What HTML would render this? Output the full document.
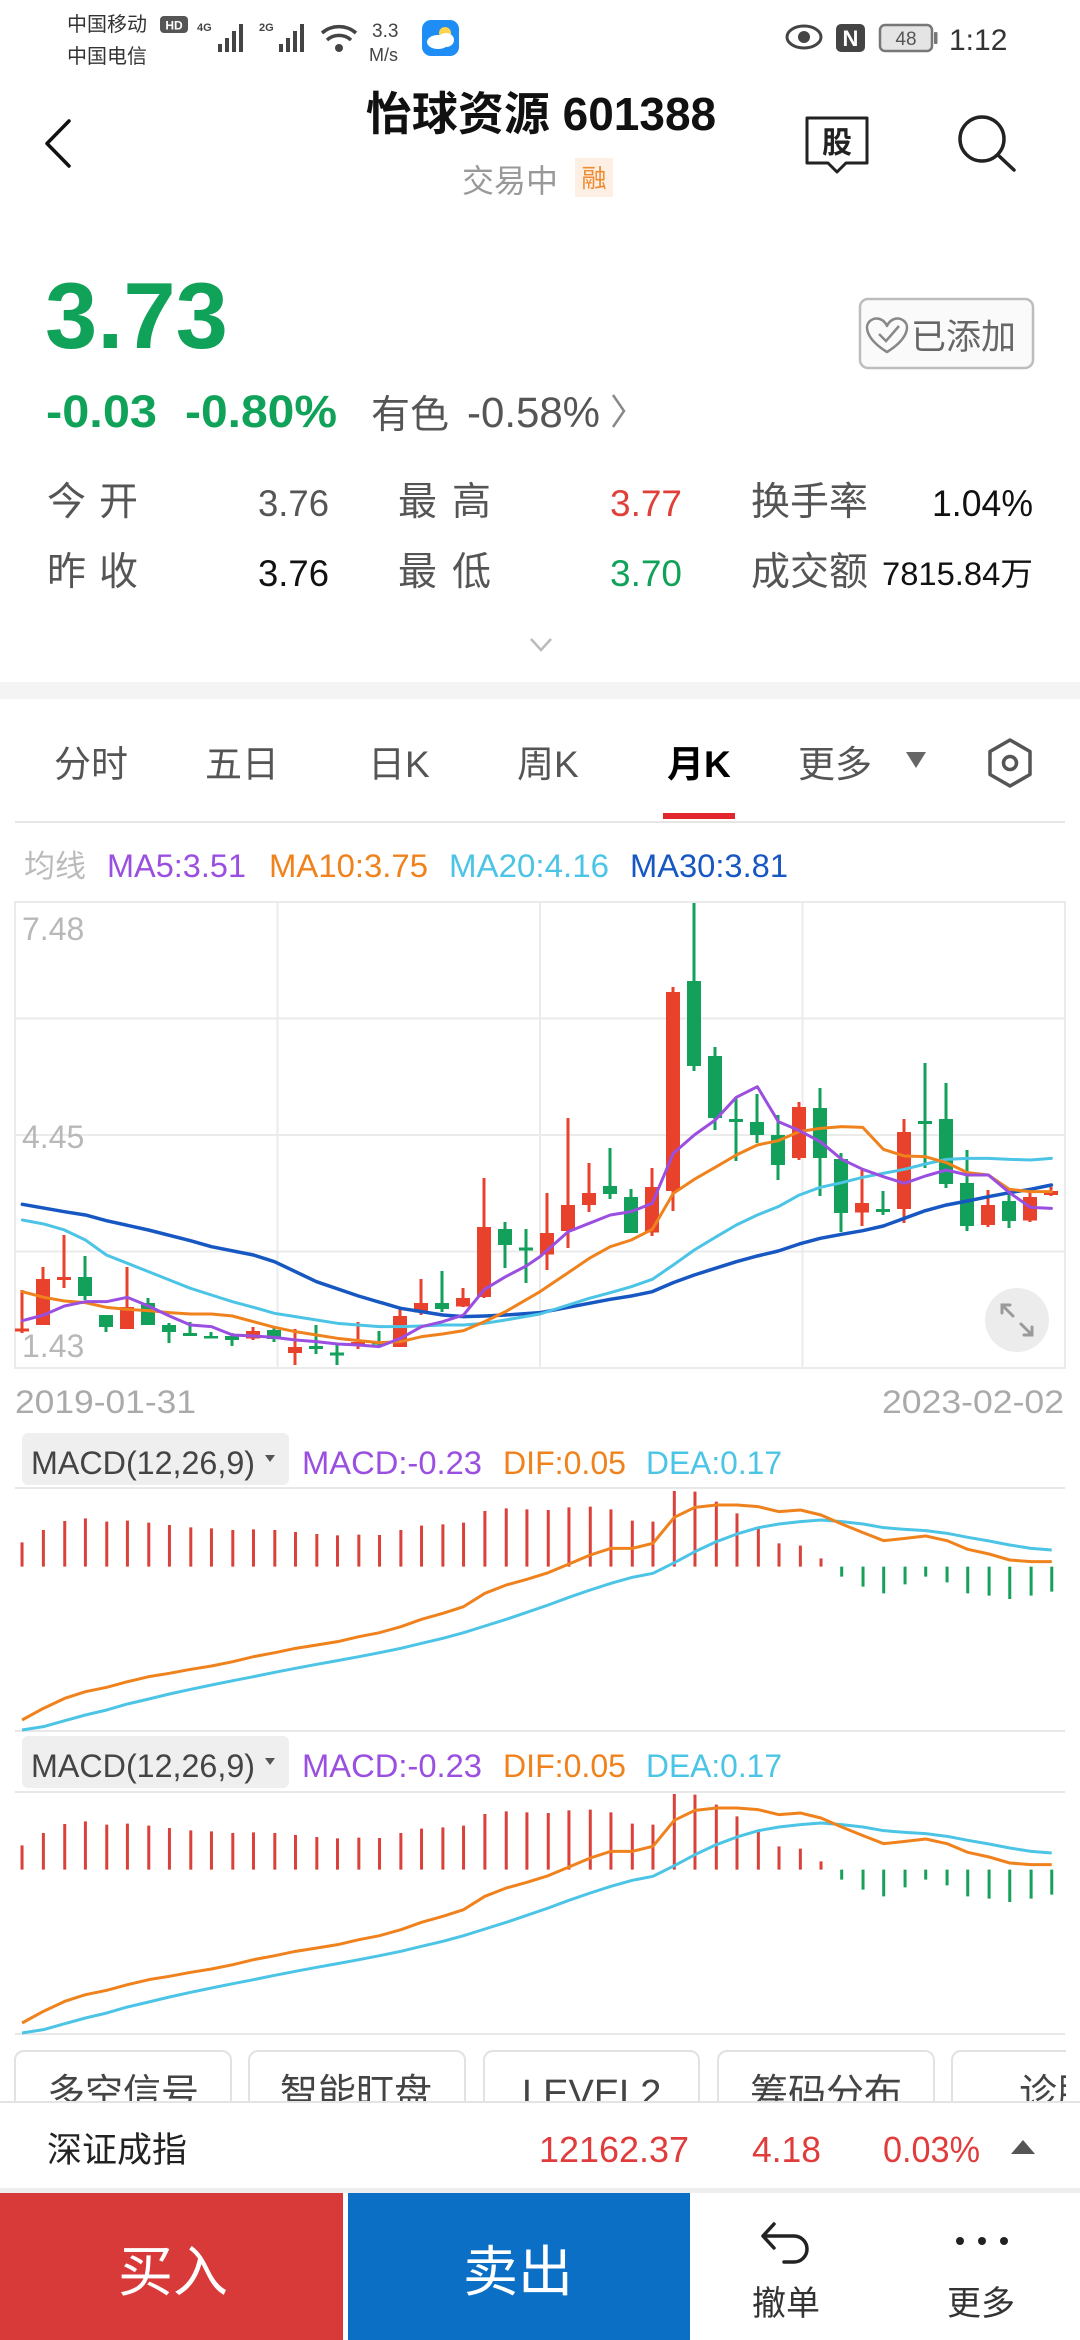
<!DOCTYPE html>
<html><head><meta charset="utf-8">
<style>
html,body{margin:0;padding:0;background:#fff;width:1080px;height:2340px;overflow:hidden}
svg{display:block}
text{font-family:"Liberation Sans","Noto Sans CJK SC",sans-serif}
</style></head>
<body>
<svg width="1080" height="2340" viewBox="0 0 1080 2340" xmlns="http://www.w3.org/2000/svg">
<rect x="0" y="0" width="1080" height="2340" fill="#fff"/>

<!-- ===== Status bar ===== -->
<text x="67" y="31" font-size="20" fill="#333">中国移动</text>
<rect x="160" y="16" width="28" height="17" rx="4" fill="#555"/>
<text x="174" y="29.5" font-size="12" font-weight="bold" fill="#fff" text-anchor="middle">HD</text>
<text x="67" y="63" font-size="20" fill="#333">中国电信</text>
<text x="197" y="31" font-size="11" font-weight="bold" fill="#444">4G</text>
<g fill="#444"><rect x="218" y="44" width="4" height="8"/><rect x="225" y="38" width="4" height="14"/><rect x="232" y="31" width="4" height="21"/><rect x="239" y="24" width="4" height="28"/></g>
<text x="259" y="31" font-size="11" font-weight="bold" fill="#444">2G</text>
<g fill="#444"><rect x="279" y="44" width="4" height="8"/><rect x="286" y="38" width="4" height="14"/><rect x="293" y="31" width="4" height="21"/><rect x="300" y="24" width="4" height="28"/></g>
<g fill="none" stroke="#444" stroke-width="3.5"><path d="M322 33 A26 26 0 0 1 356 33"/><path d="M327 40 A18 18 0 0 1 351 40"/></g>
<circle cx="339" cy="48" r="4" fill="#444"/>
<text x="372" y="37" font-size="19" fill="#444">3.3</text>
<text x="369" y="61" font-size="18" fill="#444">M/s</text>
<rect x="422" y="20" width="37" height="36" rx="9" fill="#1e8df5"/>
<circle cx="445" cy="33" r="6" fill="#ffd34a"/>
<ellipse cx="438" cy="42" rx="11" ry="7" fill="#fff"/>
<ellipse cx="446" cy="40" rx="8" ry="7" fill="#fff"/>
<ellipse cx="804" cy="37" rx="17" ry="11" fill="none" stroke="#444" stroke-width="3"/>
<circle cx="804" cy="37" r="6" fill="#444"/>
<rect x="836" y="24" width="29" height="28" rx="5" fill="#444"/>
<text x="850.5" y="46" font-size="22" font-weight="bold" fill="#fff" text-anchor="middle">N</text>
<rect x="880" y="25" width="52" height="26" rx="5" fill="#e4e4e4" stroke="#777" stroke-width="2.5"/>
<rect x="934" y="32" width="3.5" height="12" rx="1" fill="#777"/>
<text x="906" y="45" font-size="19" fill="#555" text-anchor="middle">48</text>
<text x="949" y="50" font-size="30" fill="#333">1:12</text>

<!-- ===== Header ===== -->
<polyline points="69,121 47,143.5 69,166" fill="none" stroke="#111" stroke-width="3.5" stroke-linejoin="round" stroke-linecap="round"/>
<text x="541" y="130" font-size="46" font-weight="bold" fill="#111" text-anchor="middle">怡球资源 601388</text>
<text x="462" y="192" font-size="32" fill="#999">交易中</text>
<rect x="575" y="158" width="38" height="39" fill="#fdefe4"/>
<text x="594" y="187" font-size="25" fill="#ef8a2e" text-anchor="middle">融</text>
<path d="M807 118 H867 V163 H846 L837 172 L828 163 H807 Z" fill="#fff" stroke="#222" stroke-width="3" stroke-linejoin="round"/>
<text x="837" y="153" font-size="30" font-weight="bold" fill="#222" text-anchor="middle">股</text>
<circle cx="982" cy="139" r="22" fill="none" stroke="#222" stroke-width="3.5"/>
<line x1="998" y1="155" x2="1014" y2="170" stroke="#222" stroke-width="3.5" stroke-linecap="round"/>

<!-- ===== Price block ===== -->
<text x="45" y="348" font-size="94" font-weight="bold" fill="#11a25a">3.73</text>
<text x="46" y="427" font-size="45" font-weight="bold" fill="#11a25a" textLength="111" lengthAdjust="spacingAndGlyphs">-0.03</text>
<text x="185" y="427" font-size="45" font-weight="bold" fill="#11a25a" textLength="152" lengthAdjust="spacingAndGlyphs">-0.80%</text>
<text x="371" y="428" font-size="39" fill="#555">有色</text>
<text x="467" y="427" font-size="43" fill="#555" textLength="133" lengthAdjust="spacingAndGlyphs">-0.58%</text>
<polyline points="613,395 624,411 613,427" fill="none" stroke="#888" stroke-width="2.5"/>

<rect x="860" y="299" width="173" height="69" rx="8" fill="#fafafa" stroke="#bdbdbd" stroke-width="2.5"/>
<path d="M887 352 C866 339 864 326 870 321 C876 316 884 319 887 326 C890 319 898 316 904 321 C910 326 908 339 887 352 Z" fill="none" stroke="#888" stroke-width="2.5" stroke-linejoin="round"/>
<polyline points="879,334 886,341 899,326" fill="none" stroke="#888" stroke-width="2.5"/>
<text x="911" y="349" font-size="35" fill="#666">已添加</text>

<!-- stats -->
<g font-size="39" fill="#555">
<text x="47" y="515">今</text><text x="99" y="515">开</text>
<text x="398" y="515">最</text><text x="452" y="515">高</text>
<text x="751" y="515">换手率</text>
<text x="47" y="585">昨</text><text x="99" y="585">收</text>
<text x="398" y="585">最</text><text x="452" y="585">低</text>
<text x="751" y="585">成交额</text>
</g>
<text x="258" y="516" font-size="37" fill="#555" textLength="71" lengthAdjust="spacingAndGlyphs">3.76</text>
<text x="610" y="516" font-size="37" fill="#e0403a" textLength="72" lengthAdjust="spacingAndGlyphs">3.77</text>
<text x="932" y="516" font-size="37" fill="#111" textLength="101" lengthAdjust="spacingAndGlyphs">1.04%</text>
<text x="258" y="586" font-size="37" fill="#111" textLength="71" lengthAdjust="spacingAndGlyphs">3.76</text>
<text x="610" y="586" font-size="37" fill="#11a25a" textLength="72" lengthAdjust="spacingAndGlyphs">3.70</text>
<text x="882" y="585" font-size="32" fill="#111" textLength="151" lengthAdjust="spacingAndGlyphs">7815.84万</text>
<polyline points="531,639 541,650 551,639" fill="none" stroke="#bbb" stroke-width="2.5"/>

<rect x="0" y="682" width="1080" height="17" fill="#f4f4f4"/>

<!-- ===== Tabs ===== -->
<g font-size="37" fill="#555">
<text x="54" y="777">分时</text>
<text x="205" y="777">五日</text>
<text x="368" y="777">日K</text>
<text x="517" y="777">周K</text>
<text x="798" y="777">更多</text>
</g>
<text x="667" y="777" font-size="37" font-weight="bold" fill="#000">月K</text>
<polygon points="906,752 926,752 916,768" fill="#666"/>
<polygon points="1010,740 1030,751.5 1030,774.5 1010,786 990,774.5 990,751.5" fill="none" stroke="#555" stroke-width="3.5" stroke-linejoin="round"/>
<circle cx="1010" cy="763" r="6.5" fill="none" stroke="#555" stroke-width="3.5"/>
<rect x="663" y="813" width="72" height="6" fill="#e3262b"/>
<line x1="15" y1="822" x2="1065" y2="822" stroke="#e6e6e6" stroke-width="2"/>

<!-- MA legend -->
<text x="24" y="877" font-size="31" fill="#bbb">均线</text>
<text x="107" y="877" font-size="32" fill="#9a4fe0" textLength="139" lengthAdjust="spacingAndGlyphs">MA5:3.51</text>
<text x="269" y="877" font-size="32" fill="#f0821e" textLength="159" lengthAdjust="spacingAndGlyphs">MA10:3.75</text>
<text x="449" y="877" font-size="32" fill="#4cc4e6" textLength="160" lengthAdjust="spacingAndGlyphs">MA20:4.16</text>
<text x="630" y="877" font-size="32" fill="#1657c2" textLength="158" lengthAdjust="spacingAndGlyphs">MA30:3.81</text>

<!-- ===== Main chart ===== -->
<rect x="15" y="902" width="1050" height="466" fill="none" stroke="#ebebeb" stroke-width="2"/>
<g stroke="#ebebeb" stroke-width="2">
<line x1="15" y1="1018.5" x2="1065" y2="1018.5"/>
<line x1="15" y1="1135" x2="1065" y2="1135"/>
<line x1="15" y1="1251.5" x2="1065" y2="1251.5"/>
<line x1="277.5" y1="902" x2="277.5" y2="1368"/>
<line x1="540" y1="902" x2="540" y2="1368"/>
<line x1="802.5" y1="902" x2="802.5" y2="1368"/>
</g>
<g font-size="32" fill="#b8b8b8">
<text x="22" y="940">7.48</text>
<text x="22" y="1148">4.45</text>
<text x="22" y="1357">1.43</text>
</g>

<!-- red candles -->
<g fill="#e8412c">
<path d="M22 1290V1333M43 1267V1325M64 1235V1288M127 1267V1329M253 1327V1340M295 1329V1365M358 1322V1349M400 1307V1347M421 1279V1315M463 1288V1307M484 1178V1298M547 1193V1270M568 1118V1248M589 1163V1212M652 1168V1236M673 987V1211M799 1102V1160M862 1170V1226M904 1119V1223M988 1190V1227M1030 1193V1222M1051 1187V1196" stroke="#e8412c" stroke-width="3"/>
<rect x="15" y="1328.5" width="14" height="3"/>
<rect x="36" y="1279" width="14" height="46"/>
<rect x="57" y="1277" width="14" height="3"/>
<rect x="120" y="1307" width="14" height="22"/>
<rect x="246" y="1331" width="14" height="7.5"/>
<rect x="288" y="1347" width="14" height="6"/>
<rect x="351" y="1342" width="14" height="3.5"/>
<rect x="393" y="1316" width="14" height="31"/>
<rect x="414" y="1303" width="14" height="9.5"/>
<rect x="456" y="1298" width="14" height="8.5"/>
<rect x="477" y="1227" width="14" height="70"/>
<rect x="540" y="1233" width="14" height="21.5"/>
<rect x="561" y="1205" width="14" height="26"/>
<rect x="582" y="1193" width="14" height="12"/>
<rect x="645" y="1187" width="14" height="45.5"/>
<rect x="666" y="992" width="14" height="199"/>
<rect x="792" y="1107" width="14" height="51"/>
<rect x="855" y="1203" width="14" height="9.5"/>
<rect x="897" y="1132" width="14" height="77"/>
<rect x="981" y="1205" width="14" height="20"/>
<rect x="1023" y="1197" width="14" height="23.5"/>
<rect x="1044" y="1191" width="14" height="4"/>
</g>
<!-- green candles -->
<g fill="#12a05a">
<path d="M85 1256V1300M106 1315V1332M148 1298V1325M169 1323V1343M190 1322V1336M211 1332V1338M232 1333V1346M274 1328V1342M316 1325V1354M337 1344V1365M379 1331V1345M442 1271V1312M505 1222V1268M526 1229V1283M610 1148V1199M631 1189V1233M694 903V1071M715 1047V1130M736 1097V1161M757 1094V1143M778 1115V1180M820 1088V1196M841 1153V1232M883 1191V1215M925 1063V1168M946 1083V1188M967 1150V1231M1009 1194V1228" stroke="#12a05a" stroke-width="3"/>
<rect x="78" y="1277" width="14" height="19"/>
<rect x="99" y="1315" width="14" height="12"/>
<rect x="141" y="1303" width="14" height="22"/>
<rect x="162" y="1325" width="14" height="7"/>
<rect x="183" y="1333" width="14" height="3"/>
<rect x="204" y="1336" width="14" height="2.5"/>
<rect x="225" y="1336" width="14" height="4"/>
<rect x="267" y="1330" width="14" height="9"/>
<rect x="309" y="1346" width="14" height="3"/>
<rect x="330" y="1352.5" width="14" height="3"/>
<rect x="372" y="1342" width="14" height="2.5"/>
<rect x="435" y="1303" width="14" height="6"/>
<rect x="498" y="1229" width="14" height="16"/>
<rect x="519" y="1247.5" width="14" height="3"/>
<rect x="603" y="1186" width="14" height="8"/>
<rect x="624" y="1197" width="14" height="36"/>
<rect x="687" y="981" width="14" height="85"/>
<rect x="708" y="1056" width="14" height="62"/>
<rect x="729" y="1119" width="14" height="3"/>
<rect x="750" y="1122" width="14" height="13"/>
<rect x="771" y="1135" width="14" height="30"/>
<rect x="813" y="1108" width="14" height="50"/>
<rect x="834" y="1159" width="14" height="54"/>
<rect x="876" y="1209" width="14" height="3"/>
<rect x="918" y="1121" width="14" height="3"/>
<rect x="939" y="1119" width="14" height="65"/>
<rect x="960" y="1183" width="14" height="43"/>
<rect x="1002" y="1201" width="14" height="20"/>
</g>

<!-- MA lines (zoom space) -->
<g transform="translate(0,890) scale(0.34439,0.33333)" fill="none" stroke-linejoin="round" stroke-linecap="round">
<polyline vector-effect="non-scaling-stroke" stroke="#1657c2" stroke-width="3.5" points="65,943 187,965 248,975 309,992 431,1020 553,1052 614,1070 736,1095 797,1115 919,1175 1041,1218 1163,1255 1224,1265 1285,1275 1346,1280 1407,1278 1468,1275 1568,1268 1650,1252 1772,1228 1833,1218 1894,1205 1955,1178 2016,1155 2077,1135 2138,1115 2199,1098 2260,1083 2321,1062 2382,1045 2444,1033 2505,1022 2565,1008 2626,985 2687,962 2748,945 2809,933 2870,920 2931,908 2992,898 3053,885"/>
<polyline vector-effect="non-scaling-stroke" stroke="#4cc4e6" stroke-width="3" points="65,990 127,1002 187,1020 248,1050 309,1095 370,1120 431,1145 492,1170 553,1195 614,1215 675,1235 736,1252 797,1270 858,1280 919,1290 980,1300 1041,1305 1101,1310 1163,1310 1224,1308 1285,1305 1346,1305 1407,1300 1468,1290 1568,1272 1650,1245 1711,1225 1772,1208 1833,1190 1894,1168 1955,1125 2016,1080 2077,1042 2138,1005 2199,975 2260,950 2321,915 2382,892 2444,878 2505,862 2565,850 2626,838 2687,822 2748,808 2809,805 2870,805 2931,808 2992,810 3053,805"/>
<polyline vector-effect="non-scaling-stroke" stroke="#f0821e" stroke-width="3" points="65,1205 127,1222 187,1233 248,1238 309,1252 370,1258 431,1262 492,1268 553,1272 614,1272 675,1278 736,1295 797,1312 858,1325 919,1335 980,1345 1041,1352 1101,1358 1163,1355 1224,1340 1285,1332 1346,1322 1407,1295 1468,1265 1568,1205 1650,1148 1711,1105 1772,1070 1833,1050 1894,1018 1955,910 2016,868 2077,832 2138,795 2199,765 2260,752 2321,725 2382,715 2444,710 2505,712 2565,778 2626,798 2687,800 2748,818 2809,848 2870,855 2931,898 2992,905 3053,905"/>
<polyline vector-effect="non-scaling-stroke" stroke="#9a4fe0" stroke-width="3" points="65,1292 127,1275 187,1248 248,1235 309,1235 370,1222 431,1248 492,1278 553,1305 614,1310 675,1335 736,1338 797,1342 858,1350 919,1355 980,1362 1041,1365 1101,1370 1163,1345 1224,1310 1285,1295 1346,1275 1407,1198 1468,1160 1528,1128 1568,1100 1650,1025 1711,1000 1772,975 1833,965 1894,940 1955,790 2016,735 2077,690 2138,622 2199,590 2260,695 2321,722 2382,755 2444,808 2505,838 2565,860 2626,880 2687,858 2748,840 2809,855 2870,855 2931,908 2992,952 3053,955"/>
</g>

<!-- expand button -->
<circle cx="1017" cy="1320" r="32" fill="#ececec"/>
<g stroke="#9a9a9a" stroke-width="3" fill="none" stroke-linecap="round">
<path d="M1013 1316 L1002 1305 M1002 1313 V1305 H1010"/>
<path d="M1021 1324 L1032 1335 M1032 1327 V1335 H1024"/>
</g>

<!-- dates -->
<text x="15" y="1413" font-size="32" fill="#aaa" textLength="181" lengthAdjust="spacingAndGlyphs">2019-01-31</text>
<text x="882" y="1413" font-size="32" fill="#aaa" textLength="182" lengthAdjust="spacingAndGlyphs">2023-02-02</text>

<!-- ===== MACD panel 1 ===== -->
<rect x="22" y="1433" width="267" height="52" rx="6" fill="#efefef"/>
<text x="31" y="1474" font-size="32" fill="#444" textLength="224" lengthAdjust="spacingAndGlyphs">MACD(12,26,9)</text>
<polygon points="265,1455 275,1455 270,1462" fill="#555"/>
<text x="302" y="1474" font-size="32" fill="#9a4fe0" textLength="180" lengthAdjust="spacingAndGlyphs">MACD:-0.23</text>
<text x="503" y="1474" font-size="32" fill="#f0821e" textLength="123" lengthAdjust="spacingAndGlyphs">DIF:0.05</text>
<text x="646" y="1474" font-size="32" fill="#4cc4e6" textLength="136" lengthAdjust="spacingAndGlyphs">DEA:0.17</text>
<line x1="15" y1="1488" x2="1065" y2="1488" stroke="#e8e8e8" stroke-width="2"/>
<line x1="15" y1="1731" x2="1065" y2="1731" stroke="#e8e8e8" stroke-width="2"/>

<g id="macdp" transform="translate(0,1380) scale(0.68878,0.33333)" fill="none" stroke-linejoin="round">
<path vector-effect="non-scaling-stroke" stroke="#d9413a" stroke-width="3" d="M32 560V487M63 560V450M94 560V423M124 560V415M155 560V425M185 560V422M216 560V428M246 560V435M277 560V442M307 560V445M338 560V450M368 560V448M399 560V450M429 560V456M460 560V462M490 560V466M521 560V464M551 560V465M582 560V450M612 560V437M643 560V433M673 560V428M704 560V393M735 560V385M765 560V388M796 560V390M826 560V382M857 560V380M887 560V388M918 560V422M948 560V425M979 560V333M1009 560V335M1040 560V365M1070 560V400M1101 560V445M1131 560V490M1162 560V497M1192 560V535"/>
<path vector-effect="non-scaling-stroke" stroke="#17a05a" stroke-width="3" d="M1222 560V590M1253 560V620M1283 560V640M1314 560V613M1344 560V590M1375 560V607M1405 560V640M1436 560V647M1466 560V657M1497 560V647M1527 560V635"/>
<polyline vector-effect="non-scaling-stroke" stroke="#4cc4e6" stroke-width="3" points="32,1050 63,1040 94,1022 124,1005 155,990 185,972 216,957 246,942 277,928 307,915 338,902 368,890 399,877 429,865 460,853 490,842 521,830 551,818 582,805 612,790 643,775 673,758 704,738 735,718 765,697 796,675 826,652 857,630 887,610 918,592 948,580 979,548 1009,515 1040,485 1070,462 1101,443 1131,432 1162,425 1192,420 1222,425 1253,432 1283,443 1314,448 1344,452 1375,460 1405,472 1436,483 1466,495 1497,505 1527,510"/>
<polyline vector-effect="non-scaling-stroke" stroke="#f0821e" stroke-width="3" points="32,1020 63,985 94,955 124,935 155,922 185,905 216,890 246,880 277,868 307,858 338,845 368,830 399,818 429,805 460,795 490,785 521,770 551,758 582,740 612,718 643,700 673,680 704,640 735,615 765,598 796,578 826,552 857,525 887,505 918,505 948,490 979,412 1009,382 1040,375 1070,375 1101,380 1131,395 1162,390 1192,405 1222,432 1253,458 1283,482 1314,475 1344,468 1375,482 1405,508 1436,522 1466,540 1497,545 1527,545"/>
</g>

<!-- ===== MACD panel 2 ===== -->
<rect x="22" y="1736" width="267" height="52" rx="6" fill="#efefef"/>
<text x="31" y="1777" font-size="32" fill="#444" textLength="224" lengthAdjust="spacingAndGlyphs">MACD(12,26,9)</text>
<polygon points="265,1758 275,1758 270,1765" fill="#555"/>
<text x="302" y="1777" font-size="32" fill="#9a4fe0" textLength="180" lengthAdjust="spacingAndGlyphs">MACD:-0.23</text>
<text x="503" y="1777" font-size="32" fill="#f0821e" textLength="123" lengthAdjust="spacingAndGlyphs">DIF:0.05</text>
<text x="646" y="1777" font-size="32" fill="#4cc4e6" textLength="136" lengthAdjust="spacingAndGlyphs">DEA:0.17</text>
<line x1="15" y1="1792" x2="1065" y2="1792" stroke="#e8e8e8" stroke-width="2"/>
<line x1="15" y1="2034" x2="1065" y2="2034" stroke="#e8e8e8" stroke-width="2"/>
<use href="#macdp" transform="translate(0,303)"/>

<!-- ===== bottom feature tabs (clipped) ===== -->
<g fill="#fff" stroke="#e2e2e2" stroke-width="2">
<rect x="15" y="2051" width="216" height="80" rx="9"/>
<rect x="249" y="2051" width="216" height="80" rx="9"/>
<rect x="484" y="2051" width="215" height="80" rx="9"/>
<rect x="718" y="2051" width="216" height="80" rx="9"/>
<rect x="952" y="2051" width="160" height="80" rx="9"/>
</g>
<g font-size="38" fill="#444">
<text x="47" y="2106">多空信号</text>
<text x="280" y="2106">智能盯盘</text>
<text x="522" y="2106">LEVEL2</text>
<text x="750" y="2106">筹码分布</text>
<text x="1019" y="2106">诊股</text>
</g>
<rect x="1066" y="2040" width="14" height="70" fill="#fff"/>

<!-- ===== index row ===== -->
<rect x="0" y="2102" width="1080" height="86" fill="#fff"/>
<line x1="0" y1="2102" x2="1080" y2="2102" stroke="#e4e4e4" stroke-width="2"/>
<text x="47" y="2162" font-size="35" fill="#222">深证成指</text>
<text x="539" y="2162" font-size="36" fill="#e03c3c" textLength="150" lengthAdjust="spacingAndGlyphs">12162.37</text>
<text x="752" y="2162" font-size="36" fill="#e03c3c" textLength="69" lengthAdjust="spacingAndGlyphs">4.18</text>
<text x="883" y="2162" font-size="36" fill="#e03c3c" textLength="97" lengthAdjust="spacingAndGlyphs">0.03%</text>
<polygon points="1023,2140 1035,2154 1011,2154" fill="#555"/>
<rect x="0" y="2188" width="1080" height="5" fill="#eeeeee"/>

<!-- ===== bottom action bar ===== -->
<rect x="0" y="2193" width="343" height="147" fill="#d83a3a"/>
<rect x="348" y="2193" width="342" height="147" fill="#0a6fc5"/>
<text x="118" y="2291" font-size="55" fill="#fff">买入</text>
<text x="463" y="2291" font-size="55" fill="#fff">卖出</text>
<path d="M774 2224 L763 2236 L774 2248 M763 2236 H794 A13 13 0 0 1 794 2262 H784" fill="none" stroke="#222" stroke-width="3.5" stroke-linecap="round" stroke-linejoin="round"/>
<text x="752" y="2315" font-size="34" fill="#333">撤单</text>
<g fill="#222"><circle cx="960" cy="2241" r="4"/><circle cx="982" cy="2241" r="4"/><circle cx="1004" cy="2241" r="4"/></g>
<text x="947" y="2315" font-size="34" fill="#333">更多</text>
</svg>
</body></html>
